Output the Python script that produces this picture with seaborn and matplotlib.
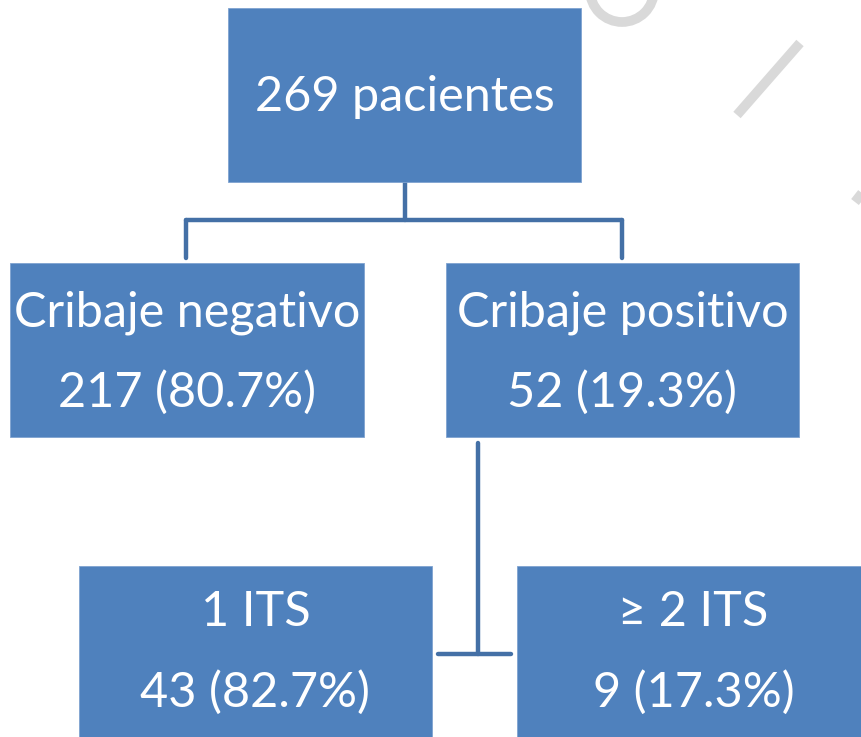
import matplotlib
matplotlib.use("Agg")
import matplotlib.pyplot as plt
from matplotlib.patches import Rectangle, Arc
import seaborn as sns

# ---- data ----
root_label = "pacientes"
root_count = 269
level1_labels = ["Cribaje negativo", "Cribaje positivo"]
level1_counts = [217, 52]
level1_pcts = [80.7, 19.3]
level2_labels = ["1 ITS", "\u2265 2 ITS"]
level2_counts = [43, 9]
level2_pcts = [82.7, 17.3]

sns.set_theme(style="white")
plt.rcParams["font.family"] = ["Lato", "DejaVu Sans"]

W, H = 862, 737
fig = plt.figure(figsize=(W / 100, H / 100), dpi=100)
ax = fig.add_axes([0, 0, 1, 1])
ax.set_xlim(0, W)
ax.set_ylim(H, 0)
ax.axis("off")

BOX = "#4F81BD"
LINE = "#4470A6"
WM = "#D9D9D9"
FS = 35

# watermark fragments
ax.plot([737, 800], [115, 43], color=WM, lw=7, solid_capstyle="butt", zorder=0)
ax.plot([855, 866], [202, 188], color=WM, lw=7, solid_capstyle="butt", zorder=0)
ax.add_patch(Arc((622, -10), 64, 64, theta1=0, theta2=180, color=WM, lw=7, zorder=0))

def box(x0, x1, y0, y1, lines, ys):
    ax.add_patch(Rectangle((x0, y0), x1 - x0, y1 - y0, facecolor=BOX,
                           edgecolor="#7FA3D0", lw=0.6, zorder=2))
    cx = (x0 + x1) / 2
    for t, y in zip(lines, ys):
        ax.text(cx, y, t, color="white", fontsize=FS, ha="center", va="center", zorder=3)

# connectors
lw = 3.2
ax.plot([405, 405], [182, 220], color=LINE, lw=lw, zorder=1)
ax.plot([186, 622], [220, 220], color=LINE, lw=lw, zorder=1)
ax.plot([186, 186], [220, 258], color=LINE, lw=lw, zorder=1)
ax.plot([622, 622], [220, 258], color=LINE, lw=lw, zorder=1)
ax.plot([478, 478], [443, 654], color=LINE, lw=lw, zorder=1)
ax.plot([438, 511], [654, 654], color=LINE, lw=lw, zorder=1)

# root
box(228, 581, 8, 182, [f"{root_count} {root_label}"], [97])

# level 1
l1_x = [(10, 364), (446, 799)]
for (x0, x1), lab, c, p in zip(l1_x, level1_labels, level1_counts, level1_pcts):
    box(x0, x1, 263, 437, [lab, f"{c} ({p}%)"], [313, 392])

# level 2
l2_x = [(79, 432), (517, 870)]
for (x0, x1), lab, c, p in zip(l2_x, level2_labels, level2_counts, level2_pcts):
    box(x0, x1, 566, 745, [lab, f"{c} ({p}%)"], [612, 692])

fig.savefig("out.png", dpi=100)
